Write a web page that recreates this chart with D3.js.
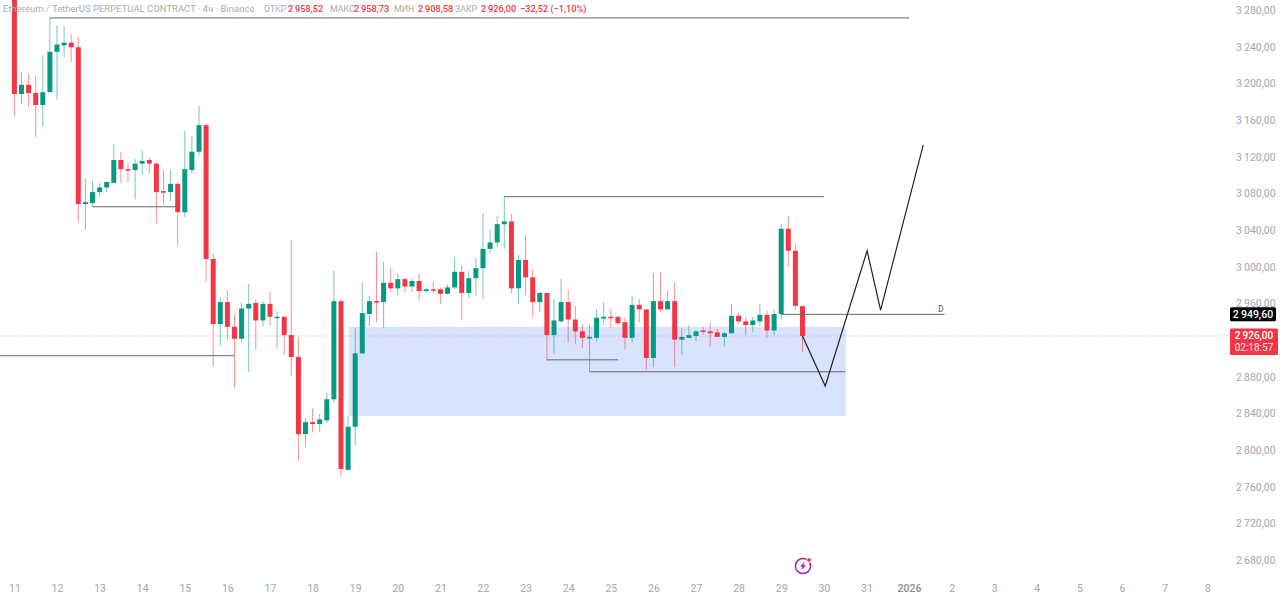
<!DOCTYPE html>
<html>
<head>
<meta charset="utf-8">
<script src="https://cdn.jsdelivr.net/npm/d3@7"></script>
<style>
    html, body { margin: 0; padding: 0; background: #fff; overflow: hidden; }
    svg { display: block; font-family: Roboto, sans-serif; }
</style>
</head>
<body>
<div id="chart"></div>
<script>
// 4h candles, oldest first
const opens = [3309,3190,3200,3191,3178,3192,3236,3243,3246,3241,3070,3071,3083,3088,3093,3118,3108,3107,3114,3118,
    3114,3084,3083,3092,3061,3107,3127,3156,3010,2939,2963,2936,2923,2956,2962,2943,2961,2946,2947,2927,
    2903,2819,2832,2830,2834,2857,2964,2780,2827,2907,2950,2964,2963,2984,2978,2988,2980,2986,2975,2977,
    2977,2972,2979,2996,2973,2989,3000,3021,3028,3048,3051,2978,3009,2990,2963,2973,2927,2942,2963,2944,
    2931,2924,2924,2945,2947,2947,2941,2924,2960,2955,2902,2964,2955,2964,2922,2924,2926,2932,2931,2930,
    2925,2929,2948,2942,2938,2942,2949,2932,2950,3043,3019,2958.52];
const highs = [3325,3214,3212,3210,3232,3273,3265,3264,3255,3252,3098,3095,3093,3094,3135,3127,3115,3119,3129,3121,
    3115,3107,3107,3094,3150,3144,3177,3158,3016,2968,2976,2950,2962,2983,2966,2964,2974,2953,2947,3031,
    2925,2836,2847,2841,2864,2997,2966,2839,2935,2984,2970,3018,3007,3001,2994,2989,2989,2994,2979,2985,
    2979,2982,3012,3003,2997,3011,3060,3042,3057,3078,3059,3015,3036,2999,2974,2973,2966,2988,2977,2959,
    2939,2938,2955,2963,2956,2947,2946,2970,2966,2955,2995,2995,2976,2985,2935,2938,2932,2936,2941,2934,
    2930,2961,2951,2947,2947,2961,2953,2955,3048,3057,3026,2958.73];
const lows = [3165,3179,3176,3143,3154,3192,3184,3230,3225,3050,3042,3067,3078,3083,3093,3093,3094,3075,3102,3104,
    3049,3069,3073,3024,3056,3103,3123,2985,2892,2915,2922,2870,2919,2887,2911,2937,2937,2913,2905,2882,
    2790,2805,2821,2821,2831,2853,2773,2779,2807,2907,2937,2941,2935,2974,2970,2974,2974,2965,2973,2973,
    2961,2971,2977,2943,2967,2970,2966,3016,3023,3021,2973,2961,2970,2946,2952,2899,2907,2940,2919,2917,
    2913,2887,2920,2938,2935,2938,2911,2919,2941,2889,2892,2952,2955,2892,2906,2924,2920,2927,2915,2925,
    2915,2929,2940,2927,2930,2937,2924,2927,2944,3001,2955,2908.58];
const closes = [3190,3200,3191,3178,3192,3236,3244,3246,3241,3070,3072,3083,3088,3094,3118,3108,3107,3114,3117,3114,
    3083,3083,3092,3061,3108,3127,3156,3010,2939,2963,2936,2923,2956,2961,2943,2961,2947,2947,2927,2903,
    2819,2832,2830,2835,2857,2964,2781,2827,2907,2951,2964,2963,2984,2978,2988,2980,2986,2975,2977,2976,
    2972,2979,2996,2973,2989,3000,3021,3028,3048,3051,2978,3009,2990,2963,2973,2927,2943,2963,2944,2931,
    2924,2925,2946,2947,2946,2940,2924,2960,2955,2902,2964,2955,2964,2922,2925,2927,2931,2931,2929,2925,
    2929,2948,2942,2938,2943,2949,2932,2950,3043,3019,2959,2926];

// x axis: a label every 6 candles
const dayLabels = ['11','12','13','14','15','16','17','18','19','20','21','22','23','24','25','26','27','28','29','30','31','2026','2','3','4','5','6','7','8'];
// 2 920,00 sits behind the last price tag in the picture, so it is left out
const priceTicks = [3280,3240,3200,3160,3120,3080,3040,3000,2960,2880,2840,2800,2760,2720,2680];

// drawings: candle index from, candle index to, price
const levelFrom = [5,69,11,-2,75,81,108];
const levelTo = [126,114,23,31,85,117,131];
const levelPrice = [3273,3078,3067,2904.5,2900,2887,2949.6];
const zoneIdx = [47.1,117.1];
const zonePrice = [2936,2838.7];
const pathIdx = [111,114.2,120.1,122,128];
const pathPrice = [2926,2871.4,3019,2954.3,3134.3];

const lastPrice = 2926;
const markPrice = 2949.6;
const countdown = '02:18:57';

const width = 1280, height = 594;
const green = '#089981', red = '#f23645', tickGrey = '#a3a6af';

const x = d3.scaleLinear().domain([0, 100]).range([14.4, 724.4]);
const y = d3.scaleLinear().domain([2680, 3280]).range([561.5, 11.5]);

const ruLocale = d3.formatLocale({ decimal: ',', thousands: '\u2009', grouping: [3], currency: ['', ''] });
const fmt = ruLocale.format(',.2f');

const candles = opens.map((o, i) => ({ i, o, h: highs[i], l: lows[i], c: closes[i] }));

const svg = d3.select('#chart').append('svg').attr('width', width).attr('height', height);

// zone
svg.append('rect')
    .attr('x', x(zoneIdx[0]))
    .attr('y', y(zonePrice[0]))
    .attr('width', x(zoneIdx[1]) - x(zoneIdx[0]))
    .attr('height', y(zonePrice[1]) - y(zonePrice[0]))
    .attr('fill', '#d9e3fd');

// last price line
svg.append('line')
    .attr('x1', 0).attr('x2', 1230)
    .attr('y1', y(lastPrice)).attr('y2', y(lastPrice))
    .attr('stroke', red).attr('stroke-opacity', 0.4)
    .attr('stroke-dasharray', '1 2');

// candles
const candle = svg.append('g').selectAll('g').data(candles).join('g')
    .attr('transform', d => `translate(${x(d.i)},0)`);
candle.append('line')
    .attr('y1', d => y(d.h)).attr('y2', d => y(d.l))
    .attr('stroke', d => d.c >= d.o ? green : red)
    .attr('stroke-opacity', 0.55);
candle.append('rect')
    .attr('x', -2.5).attr('width', 5)
    .attr('y', d => y(Math.max(d.o, d.c)))
    .attr('height', d => Math.max(1.5, Math.abs(y(d.o) - y(d.c))))
    .attr('fill', d => d.c >= d.o ? green : red);

// horizontal levels
svg.append('g').selectAll('line').data(levelPrice).join('line')
    .attr('x1', (d, i) => x(levelFrom[i]))
    .attr('x2', (d, i) => x(levelTo[i]))
    .attr('y1', d => y(d)).attr('y2', d => y(d))
    .attr('stroke', '#666').attr('stroke-width', 1);

svg.append('text')
    .attr('x', x(levelTo[6]) - 1).attr('y', y(markPrice) - 2.5)
    .attr('font-size', 8.5).attr('text-anchor', 'end').attr('fill', '#555')
    .text('D');

// projected path
const pathLine = d3.line().x(d => x(d[0])).y(d => y(d[1]));
svg.append('path')
    .attr('d', pathLine(d3.zip(pathIdx, pathPrice)))
    .attr('fill', 'none').attr('stroke', '#222').attr('stroke-width', 1.2);

// price axis
const yAxis = d3.axisRight(y).tickValues(priceTicks).tickSize(0).tickFormat(fmt);
const yG = svg.append('g').attr('transform', 'translate(1236,-1.5)').call(yAxis);
yG.select('.domain').remove();
yG.selectAll('text').attr('x', 0).attr('fill', tickGrey).attr('font-size', 10.5).attr('font-family', 'Roboto, sans-serif');

// time axis
const xAxis = d3.axisBottom(x)
    .tickValues(dayLabels.map((d, i) => i * 6))
    .tickSize(0)
    .tickFormat((d, i) => dayLabels[i]);
const xG = svg.append('g').attr('transform', 'translate(0,581)').call(xAxis);
xG.select('.domain').remove();
xG.selectAll('text').attr('y', 4).attr('fill', tickGrey).attr('font-size', 10.5).attr('font-family', 'Roboto, sans-serif');
xG.selectAll('text').filter((d, i) => dayLabels[i] === '2026').attr('fill', '#8a8d96').attr('font-weight', 500);

// price tags
svg.append('rect').attr('x', 1230).attr('y', y(markPrice) - 7).attr('width', 46).attr('height', 14)
    .attr('rx', 1.5).attr('fill', '#000');
svg.append('text').attr('x', 1253).attr('y', y(markPrice) + 3.6).attr('text-anchor', 'middle')
    .attr('fill', '#fff').attr('font-size', 10.5).attr('font-weight', 500).text(fmt(markPrice));

svg.append('rect').attr('x', 1230).attr('y', 328.5).attr('width', 48).attr('height', 26.5)
    .attr('rx', 1.5).attr('fill', red);
svg.append('text').attr('x', 1254).attr('y', 339).attr('text-anchor', 'middle')
    .attr('fill', '#fff').attr('font-size', 10).attr('font-weight', 500).text(fmt(lastPrice));
svg.append('text').attr('x', 1254).attr('y', 351).attr('text-anchor', 'middle')
    .attr('fill', '#fff').attr('fill-opacity', 0.9).attr('font-size', 10).text(countdown);

// header
const header = [
    ['Ethereum / TetherUS PERPETUAL CONTRACT · 4ч · Binance', 3, '#a9acb5', 9.5],
    ['ОТКР', 264, '#a9acb5', 8.8], [fmt(opens[111]), 288, red, 9.2],
    ['МАКС', 330, '#a9acb5', 8.8], [fmt(highs[111]), 354, red, 9.2],
    ['МИН', 394, '#a9acb5', 8.8], [fmt(lows[111]), 418, red, 9.2],
    ['ЗАКР', 455, '#a9acb5', 8.8], [fmt(closes[111]), 481, red, 9.2],
    ['−32,52 (−1,10%)', 520, red, 9.2]
];
svg.append('g').selectAll('text').data(header).join('text')
    .attr('x', d => d[1]).attr('y', 12)
    .attr('font-size', d => d[3])
    .attr('font-weight', d => d[2] === red ? 500 : 400)
    .attr('fill', d => d[2])
    .text(d => d[0]);

// bolt badge
const badge = svg.append('g').attr('transform', 'translate(803,566)');
badge.append('circle').attr('r', 7.6).attr('fill', 'none').attr('stroke', '#9c27b0').attr('stroke-width', 1.5);
badge.append('path').attr('d', 'M1.8,-4.5 L-3,0.8 L-0.4,0.8 L-1.8,4.5 L3,-0.8 L0.4,-0.8 Z').attr('fill', '#9c27b0');
badge.append('circle').attr('cx', 6).attr('cy', -6).attr('r', 2.4).attr('fill', red).attr('stroke', '#fff');
</script>
</body>
</html>
